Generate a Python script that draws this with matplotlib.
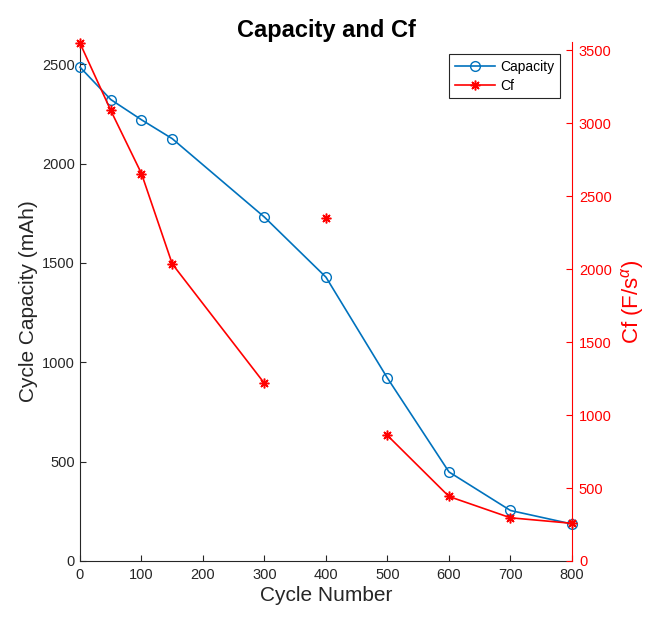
import numpy as np
import matplotlib.pyplot as plt
from matplotlib.lines import Line2D

plt.rcParams['font.family'] = ['Liberation Sans', 'DejaVu Sans']
plt.rcParams['mathtext.fontset'] = 'custom'
plt.rcParams['mathtext.rm'] = 'Liberation Sans'
plt.rcParams['mathtext.it'] = 'Liberation Sans:italic'

# data
cycles = [0, 50, 100, 150, 300, 400, 500, 600, 700, 800]
capacity = [2485, 2322, 2220, 2125, 1730, 1428, 920, 448, 254, 186]
cf = [3549, 3088, 2655, 2036, 1217, 2352, 860, 442, 296, 258]
# Cf line pieces (start, stop) - the 400 point stands alone
cf_segments = [(0, 5), (5, 6), (6, 10)]

blue = '#0072BD'
red = '#FF0000'
grey = '#262626'

fig = plt.figure(figsize=(6.46, 6.17), dpi=100)
ax = fig.add_axes([0.1238, 0.0908, 0.7616, 0.841])
ax2 = ax.twinx()

# capacity on the left axis
ax.plot(cycles, capacity, color=blue, lw=1.2, marker='o', ms=7,
        mfc='none', mec=blue, mew=1.0, zorder=3, clip_on=False)

# Cf on the right axis, split into segments
for a, b in cf_segments:
    ax2.plot(cycles[a:b], cf[a:b], color=red, lw=1.2, marker=(8, 2, 0),
             ms=7, mec=red, mew=1.1, clip_on=False)

ax.set_xlim(0, 800)
ax.set_ylim(0, 2611)
ax2.set_ylim(0, 3556)
ax.set_xticks(np.arange(0, 801, 100))
ax.set_yticks(np.arange(0, 2501, 500))
ax2.set_yticks(np.arange(0, 3501, 500))

ax.spines['top'].set_visible(False)
ax2.spines['top'].set_visible(False)
ax2.spines['left'].set_visible(False)
ax2.spines['bottom'].set_visible(False)
ax.spines['right'].set_visible(False)
ax.spines['left'].set_color(grey)
ax.spines['bottom'].set_color(grey)
ax2.spines['right'].set_color(red)

ax.tick_params(axis='both', direction='in', length=4, colors=grey,
               labelsize=10.5, width=0.8)
ax.tick_params(axis='x', pad=5)
ax2.tick_params(axis='y', direction='in', length=4, colors=red,
                labelsize=10.5, width=0.8, pad=5)

ax.set_xlabel('Cycle Number', fontsize=15, color=grey, labelpad=3)
ax.set_ylabel('Cycle Capacity (mAh)', fontsize=15, color=grey, labelpad=3)
ax2.set_ylabel(r'Cf (F/s$^{\alpha}$)', fontsize=16, color=red, labelpad=5)
ax.set_title('Capacity and Cf', fontsize=17, fontweight='bold', pad=1)

handles = [
    Line2D([], [], color=blue, lw=1.2, marker='o', ms=7, mfc='none', mec=blue),
    Line2D([], [], color=red, lw=1.2, marker=(8, 2, 0), ms=7, mec=red, mew=1.1),
]
leg = ax2.legend(handles, ['Capacity', 'Cf'], loc='upper right',
                 bbox_to_anchor=(0.99, 0.99), fontsize=10, fancybox=False,
                 edgecolor='#262626', framealpha=1, borderpad=0.4,
                 handlelength=2.9, handletextpad=0.4, labelspacing=0.35)
leg.get_frame().set_linewidth(0.8)

fig.savefig('out.png', dpi=100)
